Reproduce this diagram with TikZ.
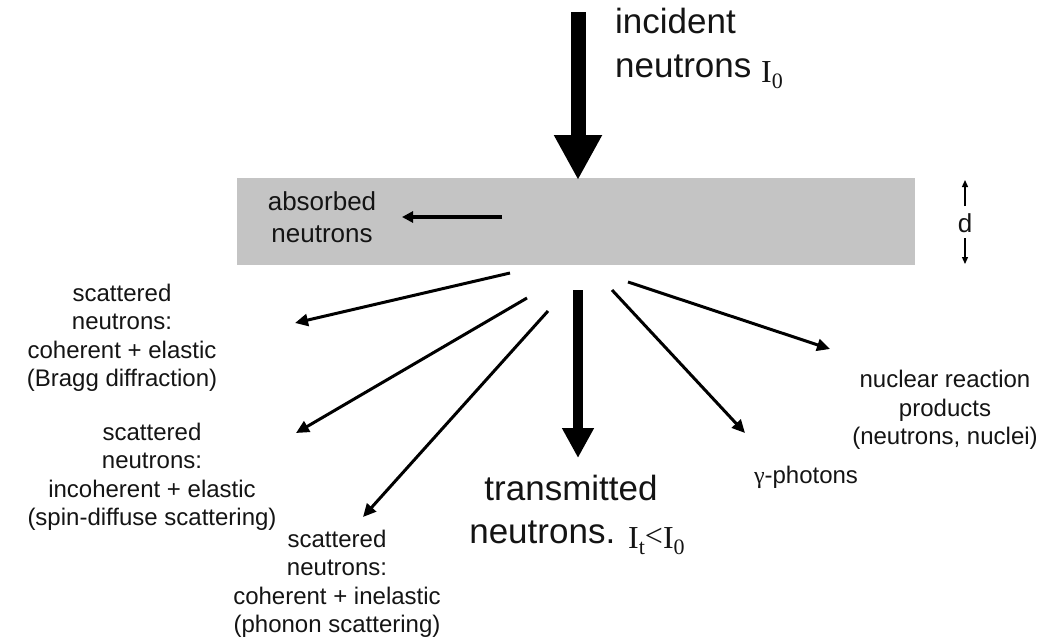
\documentclass[tikz,border=0pt]{standalone}
\usepackage{fontspec}
\setmainfont{Liberation Sans}
\newfontfamily\tnr{Liberation Serif}
\usetikzlibrary{arrows.meta}
\definecolor{slabgray}{RGB}{196,196,196}
\definecolor{ink}{RGB}{20,20,20}
\newcommand\Isub[1]{\raisebox{-5pt}{\tnr\fontsize{32}{32}\selectfont I\raisebox{-6pt}{\fontsize{22}{22}\selectfont #1}}}
\newcommand\LessThan{\raisebox{-3pt}{\tnr\fontsize{32}{32}\selectfont <}}
\begin{document}
\begin{tikzpicture}[x=1pt,y=-1pt,
  bigtext/.style={font=\fontsize{35}{44}\selectfont, text=ink, inner sep=0pt},
  smalltext/.style={font=\fontsize{24}{28.5}\selectfont, text=ink, align=center, inner sep=0pt},
  thinarrow/.style={draw=black, line width=3pt, -{Triangle[length=13pt,width=12pt]}},
  bigarrowA/.style={draw=black, line width=15pt, -{Triangle[length=45pt,width=45pt]}},
  bigarrowB/.style={draw=black, line width=10pt, -{Triangle[length=30pt,width=30pt]}},
  darrow/.style={draw=black, line width=1.3pt, -{Triangle[length=7pt,width=6pt]}}
]
\useasboundingbox (0,0) rectangle (1060,643);

% slab
\node[fill=slabgray, draw=none, minimum width=678pt, minimum height=87pt, inner sep=0pt, anchor=north west] (slab) at (237,178) {};

% incident
\coordinate (incTop) at (578,12);
\coordinate (incTip) at (578,180);
\draw[bigarrowA] (incTop) -- (incTip);
\node[bigtext, anchor=base west] (inc1) at (615,33) {incident};
\node[bigtext, anchor=base west] (inc2) at (615,77) {neutrons \Isub{0}};

% absorbed
\coordinate (absStart) at (502,217);
\node[smalltext, font=\fontsize{26}{32}\selectfont] (abs) at (322,217) {absorbed\\neutrons};
\coordinate (absTip) at (402,217);
\draw[thinarrow, line width=3.5pt, -{Triangle[length=11pt,width=11pt]}] (absStart) -- (absTip);

% thickness d
\node[font=\fontsize{26}{26}\selectfont, text=ink, inner sep=0pt] (d) at (965,223) {d};
\coordinate (dUpS) at (965,206);
\coordinate (dUpE) at (965,180);
\coordinate (dDnS) at (965,238);
\coordinate (dDnE) at (965,264);
\draw[darrow] (dUpS) -- (dUpE);
\draw[darrow] (dDnS) -- (dDnE);

% transmitted
\coordinate (trTop) at (578,290);
\coordinate (trTip) at (578,458);
\draw[bigarrowB] (trTop) -- (trTip);
\node[bigtext, anchor=base] (tr1) at (571,500) {transmitted};
\node[bigtext, anchor=base] (tr2) at (577,543) {neutrons. \Isub{t}\LessThan\Isub{0}};

% scattered blocks
\node[smalltext] (bragg) at (122,338) {scattered\\neutrons:\\coherent + elastic\\(Bragg diffraction)};
\node[smalltext] (spin) at (152,477) {scattered\\neutrons:\\incoherent + elastic\\(spin-diffuse scattering)};
\node[smalltext] (phonon) at (337,584) {scattered\\neutrons:\\coherent + inelastic\\(phonon scattering)};
\node[smalltext] (nuc) at (945,410) {nuclear reaction\\products\\(neutrons, nuclei)};
\node[smalltext] (gam) at (806,477) {{\tnr γ}-photons};

% scattering arrows
\coordinate (s1) at (510,273); \coordinate (e1) at (295,323);
\coordinate (s2) at (527,298); \coordinate (e2) at (296,433);
\coordinate (s3) at (548,311); \coordinate (e3) at (363,517);
\coordinate (s4) at (612,290); \coordinate (e4) at (745,433);
\coordinate (s5) at (628,282); \coordinate (e5) at (830,349);
\draw[thinarrow] (s1) -- (e1);
\draw[thinarrow] (s2) -- (e2);
\draw[thinarrow] (s3) -- (e3);
\draw[thinarrow] (s4) -- (e4);
\draw[thinarrow] (s5) -- (e5);
\end{tikzpicture}
\end{document}
